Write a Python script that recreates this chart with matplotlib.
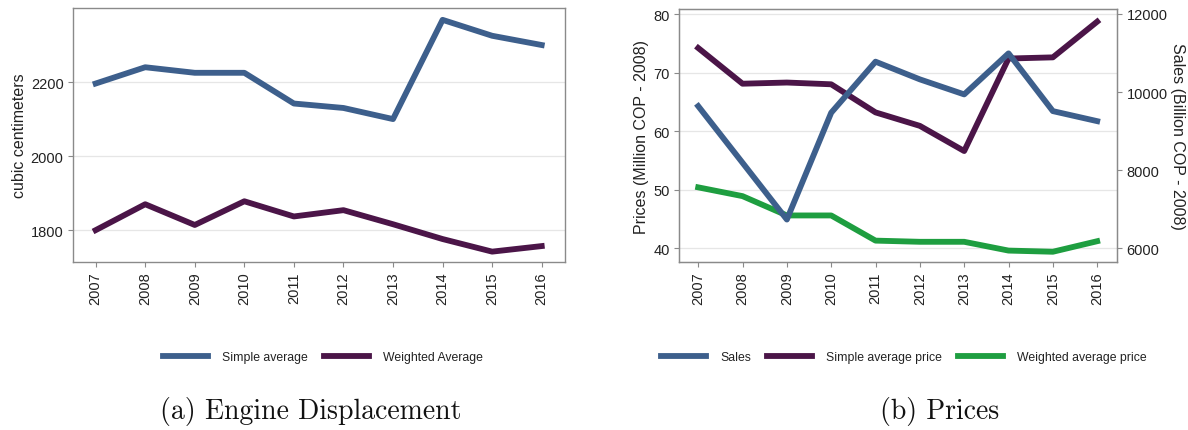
import matplotlib

matplotlib.use("Agg")
import matplotlib.pyplot as plt

plt.rcParams["font.family"] = ["Liberation Sans", "DejaVu Sans"]

YEARS = [2007, 2008, 2009, 2010, 2011, 2012, 2013, 2014, 2015, 2016]

# engine displacement, cubic centimeters
DISP_SIMPLE = [2196, 2240, 2225, 2225, 2142, 2130, 2100, 2368, 2325, 2300]
DISP_WEIGHTED = [1800, 1870, 1814, 1878, 1837, 1854, 1816, 1776, 1742, 1757]

# prices (million COP, 2008) and sales (billion COP, 2008)
SALES = [9641, 8190, 6736, 9472, 10779, 10326, 9941, 10992, 9513, 9256]
PRICE_SIMPLE = [74.2, 68.1, 68.3, 68.0, 63.2, 60.9, 56.6, 72.4, 72.6, 78.7]
PRICE_WEIGHTED = [50.4, 48.9, 45.6, 45.6, 41.3, 41.1, 41.1, 39.6, 39.4, 41.2]

BLUE = "#3d5f8c"
PURPLE = "#4b1548"
GREEN = "#1e9e40"
FRAME = "#8a8a8a"
GRID = "#e6e6e6"
TEXT = "#222222"

LW = 4.2
TICK_SIZE = 10.5
LABEL_SIZE = 11.5
LEGEND_SIZE = 8.8

W, H = 1188, 431
B_LEFT, B_RIGHT = 678.7, 1117.4


def px_axes(left, top, right, bottom):
    return [left / W, 1 - bottom / H, (right - left) / W, (bottom - top) / H]


def style_axis(ax, pad_left, pad_right):
    for spine in ax.spines.values():
        spine.set_color(FRAME)
        spine.set_linewidth(1.0)
    ax.tick_params(colors=TEXT, labelsize=TICK_SIZE, direction="out",
                   length=3.5, width=0.8, pad=3)
    ax.tick_params(axis="both", color=FRAME)
    ax.grid(axis="y", color=GRID, linewidth=0.9)
    ax.set_axisbelow(True)
    ax.set_xticks(YEARS)
    ax.set_xticklabels([str(y) for y in YEARS], rotation=90)
    ax.set_xlim(YEARS[0] - pad_left, YEARS[-1] + pad_right)


fig = plt.figure(figsize=(W / 100, H / 100), dpi=100, facecolor="white")

# (a) engine displacement
ax_a = fig.add_axes(px_axes(72.6, 9, 565, 263))
ax_a.plot(YEARS, DISP_SIMPLE, color=BLUE, lw=LW, solid_joinstyle="round",
          label="Simple average")
ax_a.plot(YEARS, DISP_WEIGHTED, color=PURPLE, lw=LW, solid_joinstyle="round",
          label="Weighted Average")
ax_a.set_ylim(1714, 2400)
ax_a.set_yticks([1800, 2000, 2200])
style_axis(ax_a, 0.465, 0.47)
ax_a.set_ylabel("cubic centimeters", fontsize=LABEL_SIZE, color=TEXT,
                labelpad=3)

# (b) prices with sales on a second axis
ax_b = fig.add_axes(px_axes(B_LEFT, 10, B_RIGHT, 263))
ax_s = ax_b.twinx()
ln_simple, = ax_b.plot(YEARS, PRICE_SIMPLE, color=PURPLE, lw=LW,
                       solid_joinstyle="round", label="Simple average price")
ln_weighted, = ax_b.plot(YEARS, PRICE_WEIGHTED, color=GREEN, lw=LW,
                         solid_joinstyle="round", label="Weighted average price")
ln_sales, = ax_s.plot(YEARS, SALES, color=BLUE, lw=LW, solid_joinstyle="round",
                      label="Sales")
ax_b.set_ylim(37.65, 80.86)
ax_b.set_yticks([40, 50, 60, 70, 80])
style_axis(ax_b, 0.44, 0.456)
ax_s.set_ylim(5649, 12128)
ax_s.set_yticks([6000, 8000, 10000, 12000])
for spine in ax_s.spines.values():
    spine.set_color(FRAME)
ax_s.tick_params(colors=TEXT, labelsize=TICK_SIZE, direction="out",
                 length=3.5, width=0.8, pad=3)
ax_s.tick_params(axis="y", color=FRAME)
ax_b.set_ylabel("Prices (Million COP - 2008)", fontsize=LABEL_SIZE,
                color=TEXT, labelpad=3)
ax_s.set_ylabel("Sales (Billion COP - 2008)", fontsize=LABEL_SIZE, color=TEXT,
                rotation=270, va="center", ha="center")
ax_s.yaxis.set_label_coords((1177 - B_LEFT) / (B_RIGHT - B_LEFT), 0.5)

legend_kw = dict(
    loc="center", frameon=False, fontsize=LEGEND_SIZE, handlelength=3.7,
    handletextpad=1.15, columnspacing=1.3, labelcolor=TEXT,
)
fig.legend(handles=ax_a.get_lines(), ncol=2,
           bbox_to_anchor=(323 / W, 1 - 358 / H), **legend_kw)
fig.legend(handles=[ln_sales, ln_simple, ln_weighted], ncol=3,
           bbox_to_anchor=(904 / W, 1 - 358 / H), **legend_kw)

caption_kw = dict(ha="center", va="center", fontsize=20, family="cmr10",
                  color="#111111")
fig.text(311 / W, 1 - 412 / H, "(a) Engine Displacement", **caption_kw)
fig.text(940 / W, 1 - 412 / H, "(b) Prices", **caption_kw)

fig.savefig("out.png", dpi=100, facecolor="white")
